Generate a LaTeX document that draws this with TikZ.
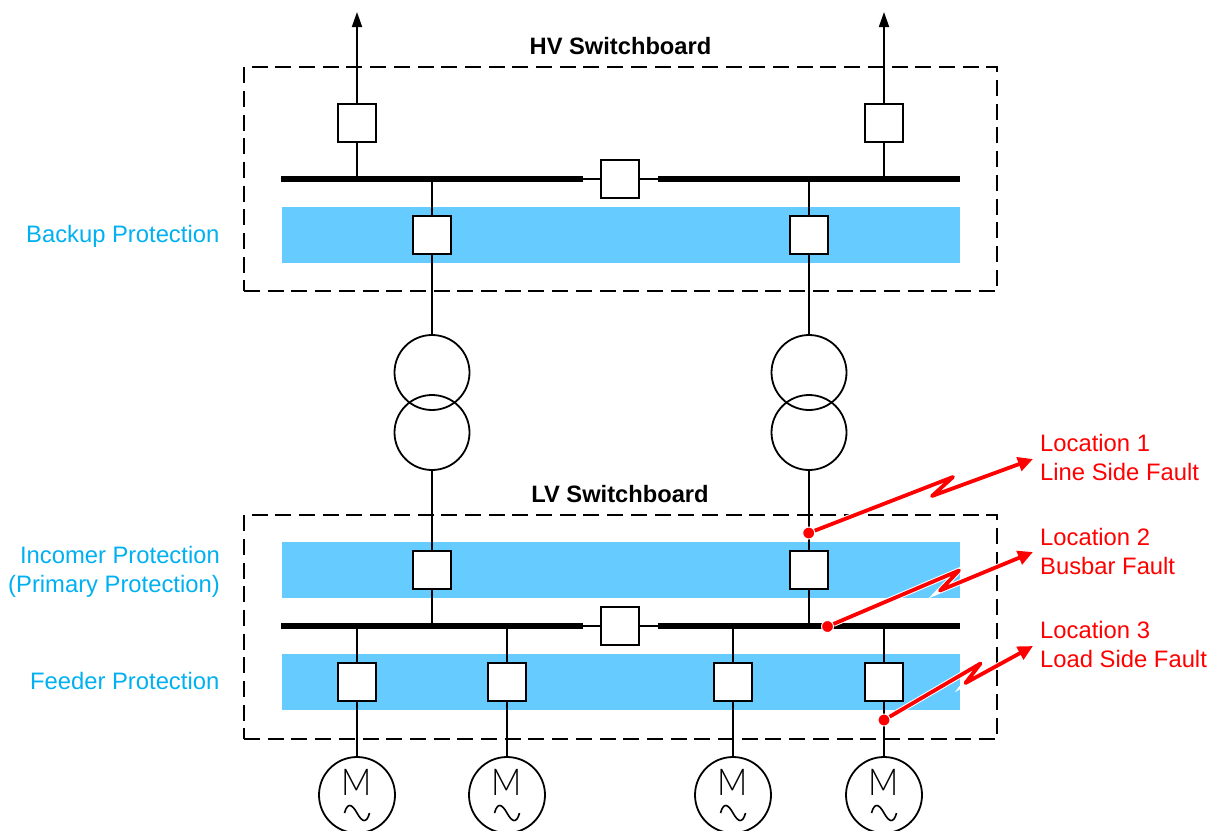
\documentclass[tikz,border=0pt]{standalone}
\usepackage{fontspec}
\setmainfont{Liberation Sans}
\newfontfamily\motorfont[FakeStretch=0.9]{Lato Light}
\usetikzlibrary{arrows.meta}
\definecolor{bandblue}{HTML}{66CCFF}
\definecolor{labelblue}{HTML}{00B0F0}
\begin{document}
\begin{tikzpicture}
    [
        x=1pt, y=-1pt,
        every node/.style={font=\fontsize{23.8}{29}\selectfont},
        wire/.style={line width=1.8pt},
        board/.style={rectangle, draw, dash pattern=on 16pt off 7.7pt, line width=1.5pt, minimum width=753pt, minimum height=224pt, inner sep=0pt},
        band/.style={rectangle, fill=bandblue, minimum width=678pt, minimum height=56pt, inner sep=0pt},
        busbar/.style={rectangle, fill=black, minimum width=302pt, minimum height=6pt, inner sep=0pt},
        breaker/.style={rectangle, draw, fill=white, line width=1.8pt, minimum size=38pt, inner sep=0pt},
        winding/.style={circle, draw, line width=1.8pt, minimum size=75pt, inner sep=0pt},
        motor/.style={circle, draw, line width=1.8pt, minimum size=76pt, inner sep=0pt,
            label={[yshift=13pt, font=\fontsize{37}{37}\motorfont]center:M},
            path picture={\draw [line width=1.6pt] ([shift={(-12.5pt,-18pt)}]path picture bounding box.center)
                .. controls +(3pt,11pt) and +(-5pt,9pt) .. ([shift={(0pt,-18pt)}]path picture bounding box.center)
                .. controls +(5pt,-9pt) and +(-3pt,-11pt) .. ([shift={(12.5pt,-18pt)}]path picture bounding box.center) ;}},
        blue label/.style={text=labelblue, align=right, anchor=east, inner sep=0pt},
        red label/.style={text=red, align=left, anchor=west, inner sep=0pt},
        title/.style={font=\fontsize{23.7}{28}\selectfont\bfseries, inner sep=0pt},
        fault/.style={draw=red, line width=3.8pt, line join=round, -{Triangle[length=15pt,width=14pt]},
            preaction={draw=white, line width=5.8pt, -{Triangle[length=15pt,width=14pt]}}},
        faultdot/.style={circle, fill=red, draw=white, line width=1pt, minimum size=12pt, inner sep=0pt},
    ]
    \useasboundingbox (0,0) rectangle (1222,830);
    % switchboards and zones
    \node (hv) at (620.5,179) [board] {};
    \node (lv) at (620.5,627) [board] {};
    \node (zone1) at (621,235) [band] {};
    \node (zone2) at (621,570) [band] {};
    \node (zone3) at (621,682) [band] {};
    \node (hvtitle) at (620.5,46.5) [title] {HV Switchboard};
    \node (lvtitle) at (620,494.5) [title] {LV Switchboard};
    \node (backup) at (219.5,236) [blue label] {Backup Protection};
    \node (incomer) at (220,571.5) [blue label] {Incomer Protection\\(Primary Protection)};
    \node (feeder) at (219.5,681) [blue label] {Feeder Protection};
    % busbars
    \node (hvl) at (432,179) [busbar] {};
    \node (hvr) at (809,179) [busbar] {};
    \node (lvl) at (432,626) [busbar] {};
    \node (lvr) at (809,626) [busbar] {};
    % breakers
    \node (o1) at (357,123) [breaker] {};
    \node (o2) at (884,123) [breaker] {};
    \node (t1) at (620,179) [breaker] {};
    \node (h1) at (432,235) [breaker] {};
    \node (h2) at (809,235) [breaker] {};
    \node (i1) at (432,570) [breaker] {};
    \node (i2) at (809,570) [breaker] {};
    \node (t2) at (620,626) [breaker] {};
    \node (f1) at (357,682) [breaker] {};
    \node (f2) at (507,682) [breaker] {};
    \node (f3) at (733,682) [breaker] {};
    \node (f4) at (884,682) [breaker] {};
    % transformers
    \node (w1) at (432,372.5) [winding] {};
    \node (w2) at (432,432.5) [winding] {};
    \node (w3) at (809,372.5) [winding] {};
    \node (w4) at (809,432.5) [winding] {};
    % motors
    \node (m1) at (357,795) [motor] {};
    \node (m2) at (507,795) [motor] {};
    \node (m3) at (733,795) [motor] {};
    \node (m4) at (884,795) [motor] {};
    % outgoing lines
    \coordinate (out1) at (357,12);
    \coordinate (out2) at (884,12);
    \draw [wire, -{Triangle[length=15pt,width=10pt]}] (o1) -- (out1);
    \draw [wire, -{Triangle[length=15pt,width=10pt]}] (o2) -- (out2);
    \draw [wire] (o1) -- (o1 |- hvl);
    \draw [wire] (o2) -- (o2 |- hvr);
    \draw [wire] (hvl) -- (t1) -- (hvr);
    \draw [wire] (h1 |- hvl) -- (h1);
    \draw [wire] (h2 |- hvr) -- (h2);
    \draw [wire] (h1) -- (w1);
    \draw [wire] (h2) -- (w3);
    \draw [wire] (w2) -- (i1);
    \draw [wire] (w4) -- (i2);
    \draw [wire] (i1) -- (i1 |- lvl);
    \draw [wire] (i2) -- (i2 |- lvr);
    \draw [wire] (lvl) -- (t2) -- (lvr);
    \draw [wire] (f1 |- lvl) -- (f1);
    \draw [wire] (f2 |- lvl) -- (f2);
    \draw [wire] (f3 |- lvr) -- (f3);
    \draw [wire] (f4 |- lvr) -- (f4);
    \draw [wire] (f1) -- (m1);
    \draw [wire] (f2) -- (m2);
    \draw [wire] (f3) -- (m3);
    \draw [wire] (f4) -- (m4);
    % fault locations
    \node (d1) at (808.7,533) [faultdot] {};
    \node (d2) at (827.5,626.5) [faultdot] {};
    \node (d3) at (884,720) [faultdot] {};
    \coordinate (e1) at (1033,459);
    \coordinate (e2) at (1033,552);
    \coordinate (e3) at (1033,646);
    \draw [fault] (d1) -- (953,477) -- (932,496) -- (e1);
    \draw [fault] (d2) -- (959,570.5) -- (940,590.5) -- (e2);
    \draw [fault] (d3) -- (980.5,663.5) -- (965.5,683) -- (e3);
    \node (l1) at (1040,457.5) [red label] {Location 1\\Line Side Fault};
    \node (l2) at (1040,551) [red label] {Location 2\\Busbar Fault};
    \node (l3) at (1040,644.5) [red label] {Location 3\\Load Side Fault};
\end{tikzpicture}
\end{document}
